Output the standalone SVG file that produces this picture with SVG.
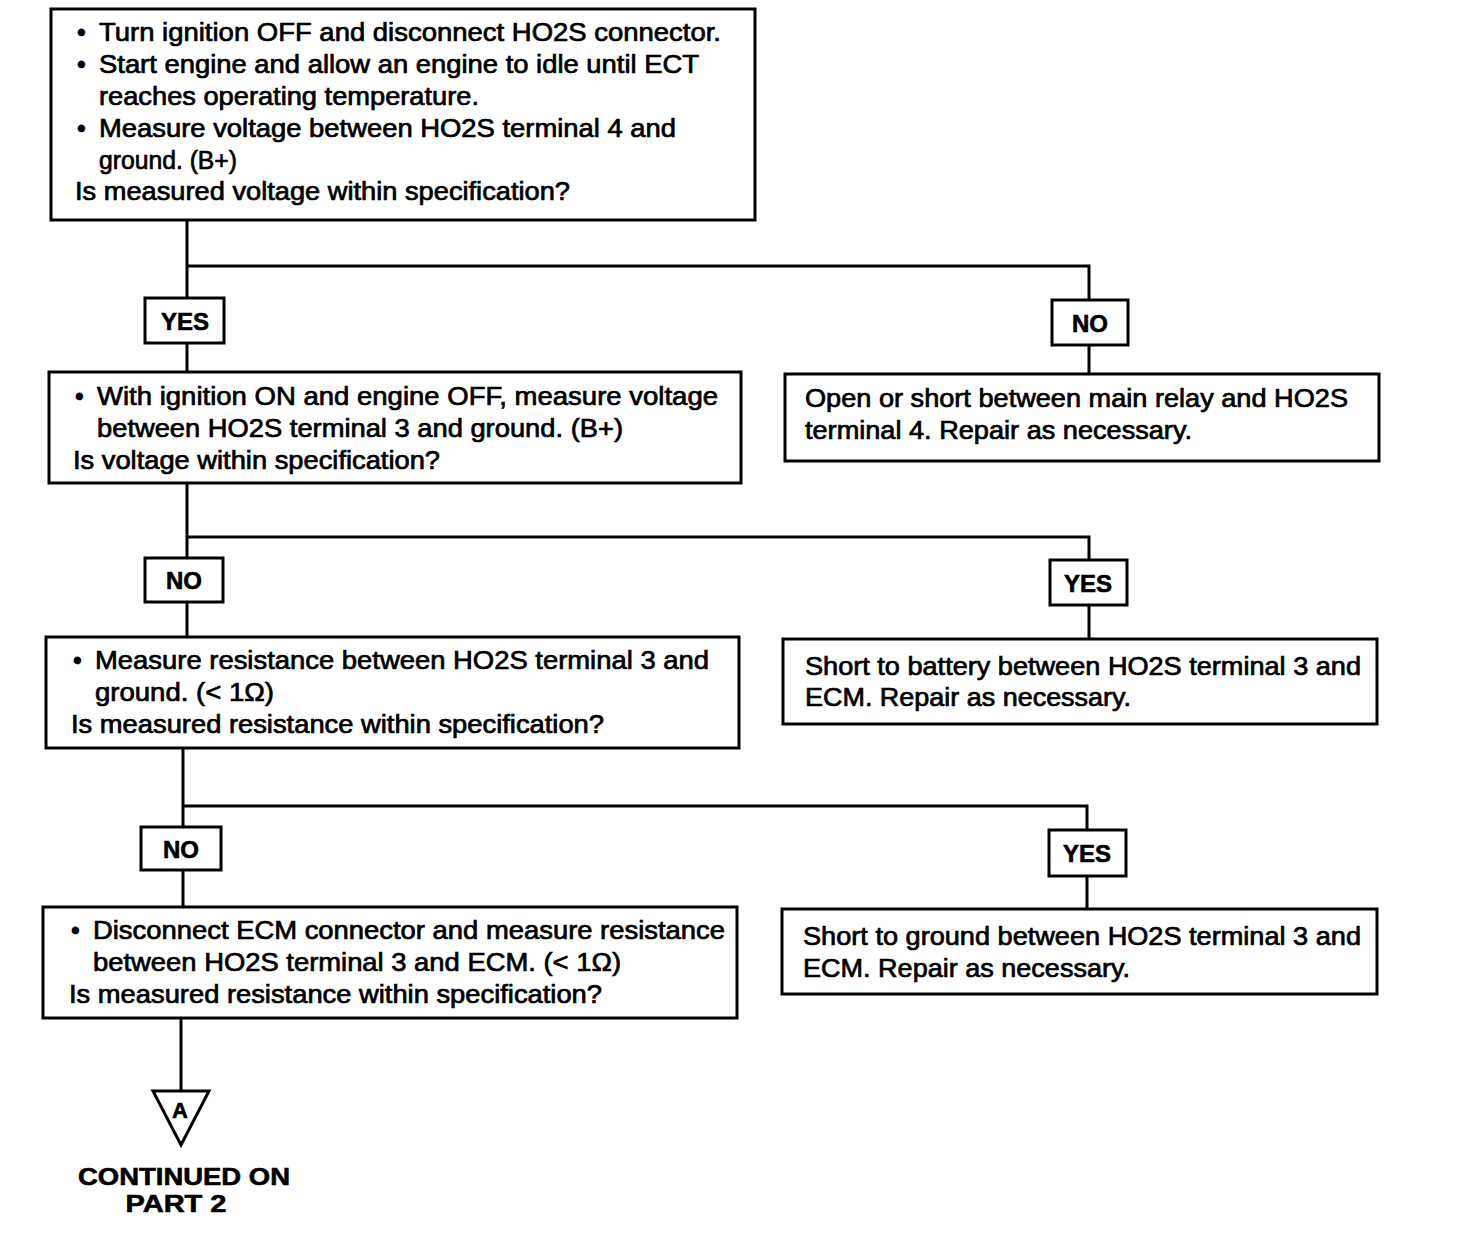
<svg xmlns="http://www.w3.org/2000/svg" width="1472" height="1234" viewBox="0 0 1472 1234">
<style>
.box{fill:#fff;stroke:#000;stroke-width:3}
.lbl{fill:#fff;stroke:#000;stroke-width:3}
.t{font-family:"Liberation Sans",Arial,sans-serif;font-size:25px;fill:#000;stroke:#000;stroke-width:0.7}
.b{font-family:"Liberation Sans",Arial,sans-serif;font-size:24px;font-weight:bold;fill:#000;stroke:#000;stroke-width:0.6;text-anchor:middle}
.c{fill:none;stroke:#000;stroke-width:3}
</style>
<rect width="1472" height="1234" fill="#fff"/>
<g id="connectors">
<polyline class="c" points="187,220 187,372"/>
<polyline class="c" points="187,266 1089,266 1089,374"/>
<polyline class="c" points="187,483 187,637"/>
<polyline class="c" points="187,537 1089,537 1089,639"/>
<polyline class="c" points="183,748 183,907"/>
<polyline class="c" points="183,806 1087,806 1087,909"/>
<polyline class="c" points="181,1018 181,1091"/>
</g>
<g id="n1">
<rect class="box" x="51" y="9" width="704" height="211"/>
<text class="t" x="77" y="41">•</text>
<text class="t" x="99" y="41" textLength="622" lengthAdjust="spacingAndGlyphs">Turn ignition OFF and disconnect HO2S connector.</text>
<text class="t" x="77" y="73">•</text>
<text class="t" x="99" y="73" textLength="600" lengthAdjust="spacingAndGlyphs">Start engine and allow an engine to idle until ECT</text>
<text class="t" x="99" y="105" textLength="380" lengthAdjust="spacingAndGlyphs">reaches operating temperature.</text>
<text class="t" x="77" y="137">•</text>
<text class="t" x="99" y="137" textLength="577" lengthAdjust="spacingAndGlyphs">Measure voltage between HO2S terminal 4 and</text>
<text class="t" x="99" y="169" textLength="138" lengthAdjust="spacingAndGlyphs">ground. (B+)</text>
<text class="t" x="75" y="200" textLength="495" lengthAdjust="spacingAndGlyphs">Is measured voltage within specification?</text>
</g>
<g id="yes1">
<rect class="lbl" x="145" y="298" width="79" height="45"/>
<text class="b" x="185" y="330">YES</text>
</g>
<g id="no1">
<rect class="lbl" x="1052" y="300" width="76" height="45"/>
<text class="b" x="1090" y="332">NO</text>
</g>
<g id="n2">
<rect class="box" x="49" y="372" width="692" height="111"/>
<text class="t" x="75" y="405">•</text>
<text class="t" x="97" y="405" textLength="621" lengthAdjust="spacingAndGlyphs">With ignition ON and engine OFF, measure voltage</text>
<text class="t" x="97" y="437" textLength="526" lengthAdjust="spacingAndGlyphs">between HO2S terminal 3 and ground. (B+)</text>
<text class="t" x="73" y="469" textLength="367" lengthAdjust="spacingAndGlyphs">Is voltage within specification?</text>
</g>
<g id="r1">
<rect class="box" x="785" y="374" width="594" height="87"/>
<text class="t" x="805" y="407" textLength="543" lengthAdjust="spacingAndGlyphs">Open or short between main relay and HO2S</text>
<text class="t" x="805" y="439" textLength="387" lengthAdjust="spacingAndGlyphs">terminal 4. Repair as necessary.</text>
</g>
<g id="no2">
<rect class="lbl" x="145" y="558" width="78" height="44"/>
<text class="b" x="184" y="589">NO</text>
</g>
<g id="yes2">
<rect class="lbl" x="1050" y="560" width="77" height="45"/>
<text class="b" x="1088" y="592">YES</text>
</g>
<g id="n3">
<rect class="box" x="46" y="637" width="693" height="111"/>
<text class="t" x="73" y="669">•</text>
<text class="t" x="95" y="669" textLength="614" lengthAdjust="spacingAndGlyphs">Measure resistance between HO2S terminal 3 and</text>
<text class="t" x="95" y="701" textLength="179" lengthAdjust="spacingAndGlyphs">ground. (&lt; 1Ω)</text>
<text class="t" x="71" y="733" textLength="533" lengthAdjust="spacingAndGlyphs">Is measured resistance within specification?</text>
</g>
<g id="r2">
<rect class="box" x="783" y="639" width="594" height="85"/>
<text class="t" x="805" y="675" textLength="556" lengthAdjust="spacingAndGlyphs">Short to battery between HO2S terminal 3 and</text>
<text class="t" x="805" y="706" textLength="326" lengthAdjust="spacingAndGlyphs">ECM. Repair as necessary.</text>
</g>
<g id="no3">
<rect class="lbl" x="141" y="827" width="80" height="43"/>
<text class="b" x="181" y="858">NO</text>
</g>
<g id="yes3">
<rect class="lbl" x="1049" y="830" width="77" height="46"/>
<text class="b" x="1087" y="862">YES</text>
</g>
<g id="n4">
<rect class="box" x="43" y="907" width="694" height="111"/>
<text class="t" x="71" y="939">•</text>
<text class="t" x="93" y="939" textLength="632" lengthAdjust="spacingAndGlyphs">Disconnect ECM connector and measure resistance</text>
<text class="t" x="93" y="971" textLength="528" lengthAdjust="spacingAndGlyphs">between HO2S terminal 3 and ECM. (&lt; 1Ω)</text>
<text class="t" x="69" y="1003" textLength="533" lengthAdjust="spacingAndGlyphs">Is measured resistance within specification?</text>
</g>
<g id="r3">
<rect class="box" x="782" y="909" width="595" height="85"/>
<text class="t" x="803" y="945" textLength="558" lengthAdjust="spacingAndGlyphs">Short to ground between HO2S terminal 3 and</text>
<text class="t" x="803" y="977" textLength="327" lengthAdjust="spacingAndGlyphs">ECM. Repair as necessary.</text>
</g>
<g id="a">
<polygon points="153,1091 209,1091 181,1145" fill="#fff" stroke="#000" stroke-width="3" stroke-linejoin="miter"/>
<text class="b" x="180" y="1118" style="font-size:22px">A</text>
</g>
<g id="continued">
<text class="b" x="184" y="1185" textLength="212" lengthAdjust="spacingAndGlyphs">CONTINUED ON</text>
<text class="b" x="176" y="1212" textLength="101" lengthAdjust="spacingAndGlyphs">PART  2</text>
</g>
</svg>
